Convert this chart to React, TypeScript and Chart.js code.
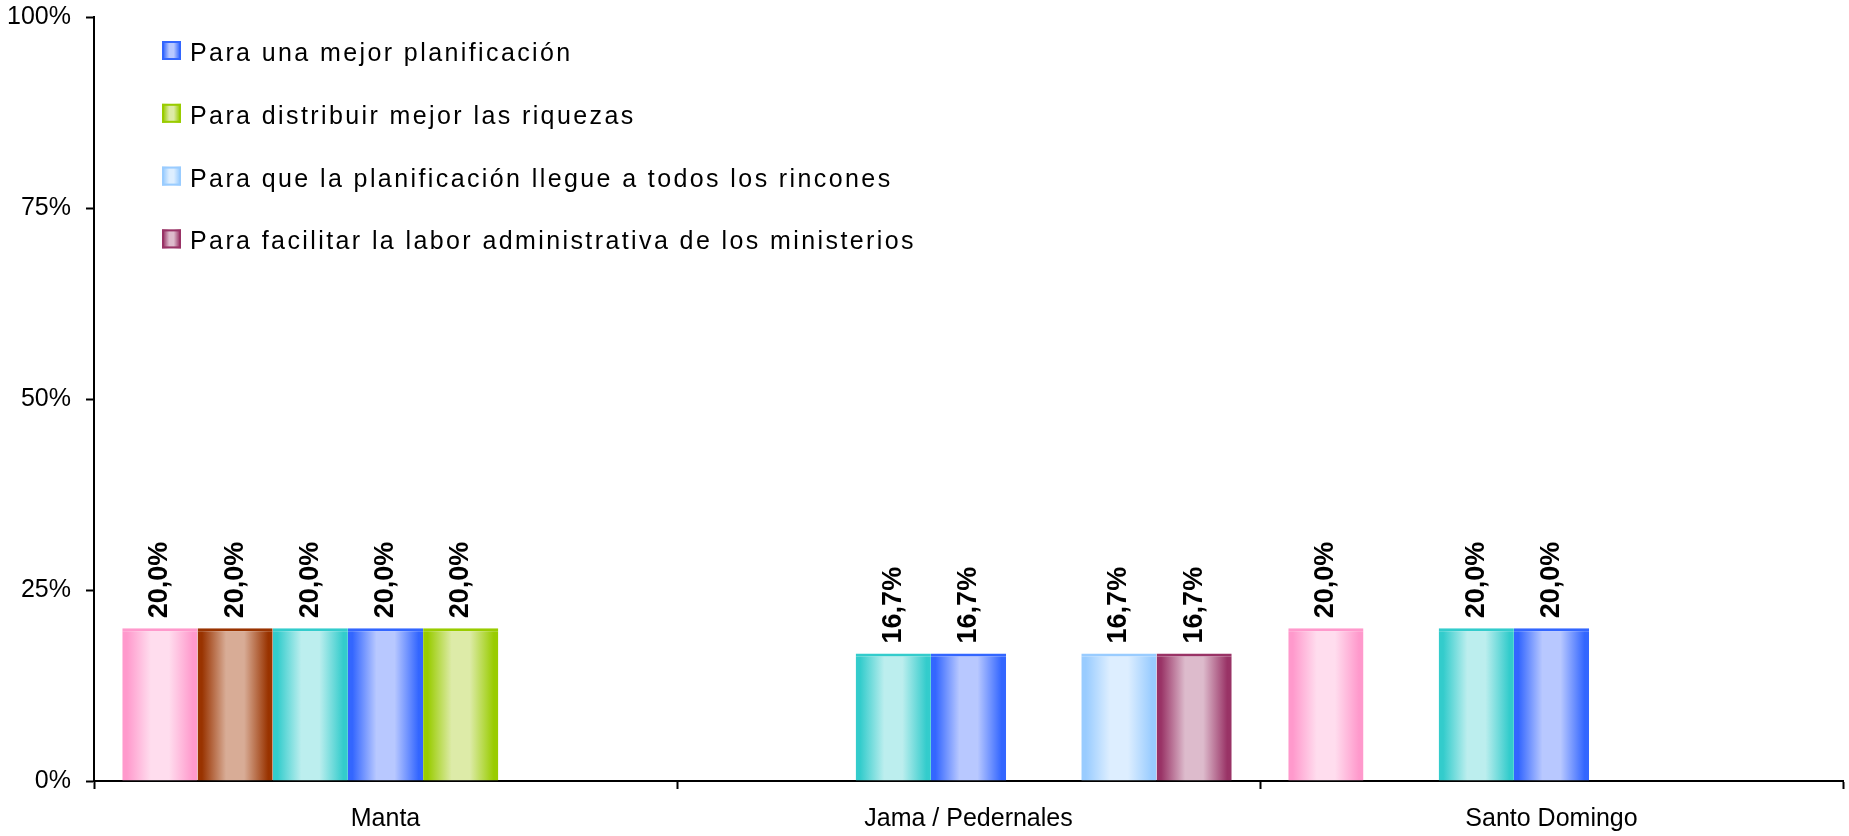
import React, { useEffect, useRef } from "react";
import { Chart, registerables } from "chart.js";

Chart.register(...registerables);

// ---------- data ----------
const categories = ["Manta", "Jama / Pedernales", "Santo Domingo"];

const seriesLabels = [
  "Respuesta 1",
  "Respuesta 2",
  "Respuesta 3",
  "Para una mejor planificación",
  "Para distribuir mejor las riquezas",
  "Para que la planificación llegue a todos los rincones",
  "Para facilitar la labor administrativa de los ministerios",
];

const pinkValues = [20.0, null, 20.0];
const brownValues = [20.0, null, null];
const tealValues = [20.0, 16.7, 20.0];
const blueValues = [20.0, 16.7, 20.0];
const greenValues = [20.0, null, null];
const lightBlueValues = [null, 16.7, null];
const purpleValues = [null, 16.7, null];

const seriesValues = [
  pinkValues,
  brownValues,
  tealValues,
  blueValues,
  greenValues,
  lightBlueValues,
  purpleValues,
];

const baseColors = ["#FF99CC", "#993300", "#33CCCC", "#3366FF", "#99CC00", "#99CCFF", "#993366"];
const lightColors = ["#FFDDEE", "#D8AC96", "#BCEEEE", "#B8C8FF", "#DDEBA8", "#DDEEFF", "#DDBBCC"];

const yTickValues = [0, 25, 50, 75, 100];

// series shown in the (visible part of the) legend
const legendSeries = [3, 4, 5, 6];

const FONT = '"Liberation Sans", Arial, Helvetica, sans-serif';

function makeGradient(ctx: CanvasRenderingContext2D, x0: number, x1: number, base: string, light: string) {
  const g = ctx.createLinearGradient(x0, 0, x1, 0);
  g.addColorStop(0, base);
  g.addColorStop(0.06, base);
  g.addColorStop(0.38, light);
  g.addColorStop(0.62, light);
  g.addColorStop(0.94, base);
  g.addColorStop(1, base);
  return g;
}

const valueLabelPlugin = {
  id: "valueLabels",
  afterDatasetsDraw(chart: any) {
    const ctx: CanvasRenderingContext2D = chart.ctx;
    ctx.save();
    ctx.font = `bold 27px ${FONT}`;
    ctx.fillStyle = "#000";
    ctx.textAlign = "left";
    ctx.textBaseline = "middle";
    chart.data.datasets.forEach((ds: any, di: number) => {
      const meta = chart.getDatasetMeta(di);
      meta.data.forEach((el: any, i: number) => {
        const v = ds.data[i];
        if (v === null || v === undefined) return;
        const text = Number(v).toFixed(1).replace(".", ",") + "%";
        ctx.save();
        ctx.translate(el.x, el.y - 10);
        ctx.rotate(-Math.PI / 2);
        ctx.fillText(text, 0, 0);
        ctx.restore();
      });
    });
    ctx.restore();
  },
};

const insideLegendPlugin = {
  id: "insideLegend",
  afterDraw(chart: any, _args: any, opts: any) {
    const ctx: any = chart.ctx;
    const { x, firstBaseline, step, box, textGap } = opts;
    ctx.save();
    ctx.font = `25px ${FONT}`;
    try {
      ctx.letterSpacing = "2.4px";
    } catch (e) {}
    ctx.textAlign = "left";
    ctx.textBaseline = "alphabetic";
    legendSeries.forEach((di: number, k: number) => {
      const ds = chart.data.datasets[di];
      const baseY = firstBaseline + k * step;
      const top = baseY - box - 1;
      ctx.fillStyle = makeGradient(ctx, x, x + box, baseColors[di], lightColors[di]);
      ctx.fillRect(x, top, box, box);
      ctx.strokeStyle = baseColors[di];
      ctx.lineWidth = 2;
      ctx.strokeRect(x + 1, top + 1, box - 2, box - 2);
      ctx.fillStyle = "#000";
      ctx.fillText(ds.label, x + box + textGap, baseY);
    });
    ctx.restore();
  },
};

export default function App() {
  const canvasRef = useRef<HTMLCanvasElement | null>(null);

  useEffect(() => {
    const canvas = canvasRef.current;
    if (!canvas) return;

    const datasets = seriesValues.map((vals, di) => ({
      label: seriesLabels[di],
      data: vals,
      backgroundColor: (c: any) => {
        const el = c.element;
        const base = baseColors[di];
        if (!el || !isFinite(el.x) || !isFinite(el.width) || !el.width) return base;
        return makeGradient(c.chart.ctx, el.x - el.width / 2, el.x + el.width / 2, base, lightColors[di]);
      },
      borderColor: baseColors[di],
      borderWidth: { top: 3, left: 0, right: 0, bottom: 0 },
      borderSkipped: "start",
      categoryPercentage: 0.903,
      barPercentage: 1.0,
    }));

    const chart = new Chart(canvas, {
      type: "bar",
      data: { labels: categories, datasets },
      options: {
        animation: false,
        responsive: false,
        devicePixelRatio: 1,
        layout: { padding: { top: 17, right: 6, left: 0, bottom: 0 } },
        plugins: {
          legend: { display: false },
          tooltip: { enabled: false },
          insideLegend: { x: 162, firstBaseline: 61, step: 62.8, box: 19, textGap: 9 },
        } as any,
        scales: {
          x: {
            grid: {
              display: true,
              drawOnChartArea: false,
              drawTicks: true,
              tickLength: 8,
              tickWidth: 2,
              tickColor: "#000",
              offset: true,
            },
            border: { display: true, color: "#000", width: 2 },
            ticks: {
              color: "#000",
              font: { family: FONT, size: 25 },
              padding: 15,
              maxRotation: 0,
              autoSkip: false,
            },
            afterFit: (s: any) => {
              s.height = 55;
              s.paddingLeft = 0;
              s.paddingRight = 0;
            },
          },
          y: {
            min: 0,
            max: 100,
            grid: {
              drawOnChartArea: false,
              drawTicks: true,
              tickLength: 8,
              tickWidth: 2,
              tickColor: "#000",
            },
            border: { display: true, color: "#000", width: 2 },
            ticks: {
              color: "#000",
              font: { family: FONT, size: 25 },
              padding: 15,
              callback: (v: any) => `${v}%`,
            },
            afterBuildTicks: (s: any) => {
              s.ticks = yTickValues.map((v) => ({ value: v }));
            },
            afterFit: (s: any) => {
              s.width = 94;
              s.paddingTop = 0;
              s.paddingBottom = 0;
            },
          },
        },
      } as any,
      plugins: [valueLabelPlugin, insideLegendPlugin],
    });
    // second pass so gradients can use the laid-out bar geometry
    chart.update();

    return () => {
      chart.destroy();
    };
  }, []);

  return (
    <div
      style={{
        position: "fixed",
        left: 0,
        top: 0,
        width: 1849,
        height: 836,
        background: "#fff",
      }}
    >
      <canvas ref={canvasRef} width={1849} height={836} style={{ display: "block" }} />
    </div>
  );
}
